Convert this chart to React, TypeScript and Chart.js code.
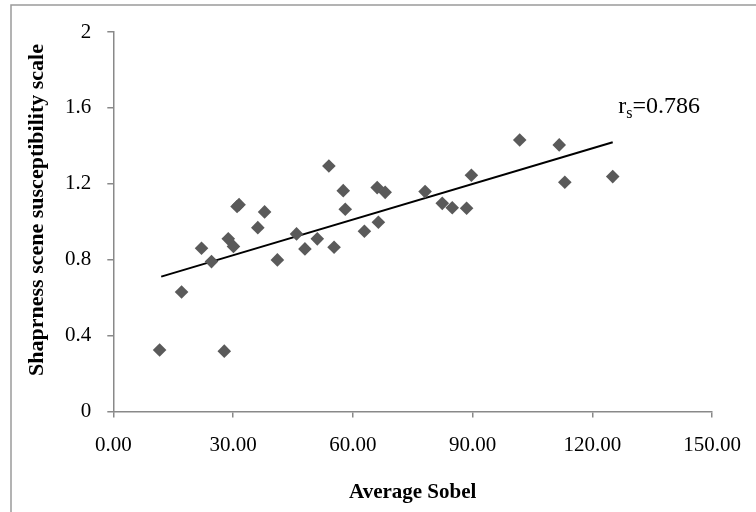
import React, { useEffect, useRef } from "react";
import { Chart, registerables } from "chart.js";

Chart.register(...registerables);

// Data (x = Average Sobel, y = sharpness scale)
const sobelValues = [
  11.6, 17.1, 22.1, 24.6, 27.8, 28.8, 30.1, 31.0, 31.5, 36.2, 37.9, 41.1, 45.9,
  48.0, 51.1, 54.0, 55.3, 57.6, 58.1, 62.9, 66.1, 66.4, 68.1, 78.1, 82.4, 84.9,
  88.5, 89.7, 101.8, 111.7, 113.1, 125.1,
];
const scaleValues = [
  0.324, 0.63, 0.86, 0.79, 0.318, 0.91, 0.87, 1.08, 1.09, 0.969, 1.052, 0.799,
  0.936, 0.857, 0.91, 1.294, 0.866, 1.164, 1.066, 0.95, 1.18, 0.997, 1.155,
  1.159, 1.097, 1.074, 1.071, 1.245, 1.431, 1.405, 1.208, 1.238,
];
// Trend line end points
const trendX = [12.0, 125.1];
const trendY = [0.711, 1.419];

const xTicks = [0, 30, 60, 90, 120, 150];
const yTicks = [0, 0.4, 0.8, 1.2, 1.6, 2];

const xTitle = "Average Sobel";
const yTitle = "Shaprness scene susceptibility scale";
const annotationMain = "r";
const annotationSub = "s";
const annotationRest = "=0.786";
const annotationAt = { x: 126.5, y: 1.574 };

const SERIF = "'Liberation Serif', 'Times New Roman', serif";
const AXIS_COLOR = "#898989";

const annotationPlugin = {
  id: "rsAnnotation",
  afterDatasetsDraw(chart: any) {
    const { ctx, scales } = chart;
    const px = scales.x.getPixelForValue(annotationAt.x);
    const py = scales.y.getPixelForValue(annotationAt.y);
    ctx.save();
    ctx.fillStyle = "#000";
    ctx.textBaseline = "alphabetic";
    ctx.textAlign = "left";
    ctx.font = `24px ${SERIF}`;
    ctx.fillText(annotationMain, px, py);
    let w = ctx.measureText(annotationMain).width;
    ctx.font = `16px ${SERIF}`;
    ctx.fillText(annotationSub, px + w, py + 5);
    w += ctx.measureText(annotationSub).width;
    ctx.font = `24px ${SERIF}`;
    ctx.fillText(annotationRest, px + w, py);
    ctx.restore();
  },
};

// Y axis title, centred on the whole chart height like the original
const yTitlePlugin = {
  id: "yTitle",
  afterDraw(chart: any) {
    const { ctx } = chart;
    ctx.save();
    ctx.translate(37, 210);
    ctx.rotate(-Math.PI / 2);
    ctx.fillStyle = "#000";
    ctx.textAlign = "center";
    ctx.textBaseline = "middle";
    ctx.font = `bold 22px ${SERIF}`;
    ctx.fillText(yTitle, 0, 0);
    ctx.restore();
  },
};

const framePlugin = {
  id: "frame",
  beforeDraw(chart: any) {
    const { ctx } = chart;
    ctx.save();
    ctx.fillStyle = "#ffffff";
    ctx.fillRect(0, 0, chart.width, chart.height);
    ctx.strokeStyle = "#9a9a9a";
    ctx.lineWidth = 1.5;
    ctx.strokeRect(11, 5, chart.width + 20, chart.height + 20);
    ctx.restore();
  },
};

export default function App() {
  const canvasRef = useRef<HTMLCanvasElement | null>(null);

  useEffect(() => {
    if (!canvasRef.current) return;
    const points = sobelValues.map((x, i) => ({ x, y: scaleValues[i] }));
    const trend = trendX.map((x, i) => ({ x, y: trendY[i] }));
    const chart = new Chart(canvasRef.current, {
      type: "scatter",
      data: {
        datasets: [
          {
            label: "data",
            data: points,
            pointStyle: "rectRot",
            pointRadius: 6.8,
            pointHoverRadius: 6.8,
            backgroundColor: "#5a5a5a",
            borderColor: "#5a5a5a",
            borderWidth: 0,
          },
          {
            label: "trend",
            type: "line",
            data: trend,
            borderColor: "#000000",
            borderWidth: 2,
            pointRadius: 0,
            fill: false,
          } as any,
        ],
      },
      options: {
        animation: false,
        responsive: false,
        devicePixelRatio: 1,
        layout: { padding: { left: 0, top: 32, right: 40.7, bottom: 0 } },
        plugins: {
          legend: { display: false },
          tooltip: { enabled: false },
        },
        scales: {
          x: {
            type: "linear",
            min: 0,
            max: 150,
            afterBuildTicks: (scale: any) => {
              scale.ticks = xTicks.map((v) => ({ value: v }));
            },
            afterFit: (scale: any) => {
              scale.height = 100.5;
            },
            ticks: {
              color: "#000",
              font: { family: SERIF, size: 21 },
              padding: 15,
              maxRotation: 0,
              callback: (v: any) => Number(v).toFixed(2),
            },
            grid: {
              display: true,
              drawOnChartArea: false,
              drawTicks: true,
              tickLength: 6,
              color: AXIS_COLOR,
              lineWidth: 1.5,
            },
            border: { display: true, color: AXIS_COLOR, width: 1.5 },
            title: {
              display: true,
              text: xTitle,
              color: "#000",
              font: { family: SERIF, size: 21, weight: "bold" },
              padding: { top: 0, bottom: 7 },
            },
          },
          y: {
            type: "linear",
            min: 0,
            max: 2,
            afterBuildTicks: (scale: any) => {
              scale.ticks = yTicks.map((v) => ({ value: v }));
            },
            afterFit: (scale: any) => {
              scale.width = 113.3;
            },
            ticks: {
              color: "#000",
              font: { family: SERIF, size: 21 },
              padding: 16,
              callback: (v: any) => String(Number(v)),
            },
            grid: {
              display: true,
              drawOnChartArea: false,
              drawTicks: true,
              tickLength: 6,
              color: AXIS_COLOR,
              lineWidth: 1.5,
            },
            border: { display: true, color: AXIS_COLOR, width: 1.5 },
            title: { display: false },
          },
        },
      },
      plugins: [framePlugin, annotationPlugin, yTitlePlugin],
    });
    return () => chart.destroy();
  }, []);

  return (
    <div style={{ position: "absolute", left: 0, top: 0, width: 756, height: 512 }}>
      <canvas ref={canvasRef} width={756} height={512} style={{ display: "block" }} />
    </div>
  );
}
